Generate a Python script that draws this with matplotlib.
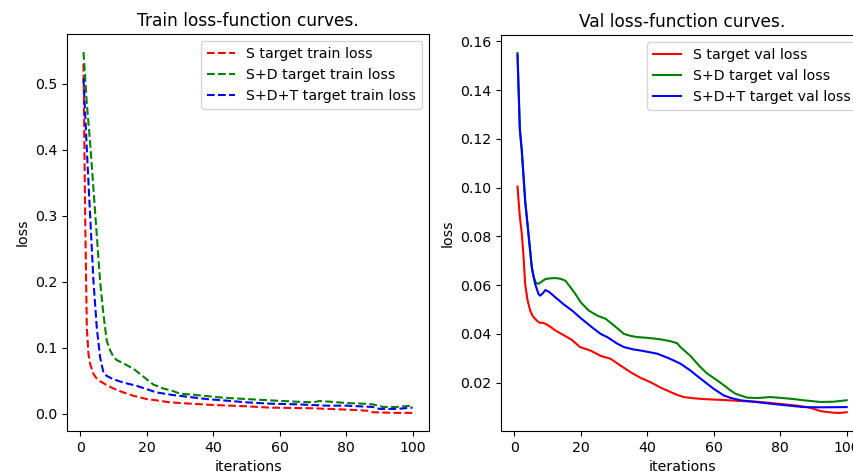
import matplotlib
matplotlib.use("Agg")
import matplotlib.pyplot as plt

plt.rcParams['font.size'] = 10.2

# train loss
x_s_train = [1, 1.5, 2, 2.5, 3, 4, 5, 6, 8, 10, 13, 16, 20, 23, 27, 33, 40, 50, 57, 70, 80, 84, 87, 88, 95, 100]
s_train = [0.53, 0.30, 0.13, 0.09, 0.075, 0.060, 0.053, 0.049, 0.043, 0.038, 0.032, 0.027, 0.022, 0.020, 0.017, 0.015, 0.013, 0.011, 0.009, 0.008, 0.006, 0.005, 0.004, 0.002, 0.001, 0.001]

x_sd_train = [1, 2, 3, 4, 5, 6, 7, 8, 9, 10, 11, 13, 16, 18, 20, 22, 25, 28, 30, 33, 37, 43, 50, 57, 65, 70, 72, 75, 80, 85, 88, 91, 95, 100]
sd_train = [0.548, 0.47, 0.41, 0.34, 0.27, 0.20, 0.15, 0.11, 0.096, 0.086, 0.081, 0.076, 0.068, 0.060, 0.052, 0.044, 0.038, 0.034, 0.030, 0.029, 0.027, 0.024, 0.022, 0.020, 0.018, 0.017, 0.019, 0.018, 0.016, 0.015, 0.014, 0.010, 0.010, 0.012]

x_sdt_train = [1, 2, 3, 4, 5, 6, 7, 8, 10, 13, 17, 20, 23, 28, 33, 38, 43, 50, 57, 65, 74, 80, 84, 88, 90, 95, 100]
sdt_train = [0.508, 0.40, 0.30, 0.20, 0.13, 0.085, 0.062, 0.057, 0.052, 0.047, 0.042, 0.037, 0.032, 0.028, 0.025, 0.022, 0.020, 0.017, 0.015, 0.014, 0.012, 0.012, 0.011, 0.010, 0.007, 0.007, 0.009]

# val loss
x_s_val = [1, 1.7, 2.3, 2.8, 3.3, 4, 4.8, 5.5, 6.3, 7, 7.8, 8.5, 9.5, 11, 12.4, 15, 17.3, 19.8, 22.9, 26, 29, 32, 35, 38, 41, 44, 47, 49, 51, 54, 58, 63, 68, 73, 77, 82, 85, 88, 90, 92, 94, 96, 98, 100]
s_val = [0.1004, 0.088, 0.081, 0.072, 0.0605, 0.054, 0.0496, 0.0475, 0.0462, 0.0452, 0.0445, 0.0446, 0.0441, 0.0428, 0.0414, 0.0394, 0.0376, 0.0346, 0.0332, 0.031, 0.0298, 0.027, 0.0243, 0.022, 0.0202, 0.018, 0.0162, 0.015, 0.0141, 0.0136, 0.0132, 0.0129, 0.0125, 0.0122, 0.0117, 0.011, 0.0106, 0.010, 0.0093, 0.0084, 0.008, 0.0077, 0.0076, 0.0079]

x_sd_val = [1, 1.7, 2.3, 3.3, 4.3, 5.3, 5.8, 6.5, 7.3, 8, 9.4, 11, 12.4, 14, 15.4, 17, 18.4, 20, 22.4, 25, 27.5, 30, 33, 35, 37, 40, 44, 47, 49, 50, 53, 56, 58, 61, 63, 65, 66.5, 68, 70, 73, 77, 80, 84, 87, 92, 96, 100]
sd_val = [0.1552, 0.124, 0.115, 0.0946, 0.081, 0.0673, 0.0635, 0.061, 0.0605, 0.0612, 0.0625, 0.0628, 0.0629, 0.0626, 0.0618, 0.059, 0.0564, 0.053, 0.0496, 0.0475, 0.0462, 0.0435, 0.040, 0.0392, 0.0387, 0.0384, 0.0378, 0.037, 0.0362, 0.0346, 0.031, 0.0264, 0.0238, 0.021, 0.019, 0.0169, 0.0155, 0.0148, 0.0139, 0.0137, 0.0141, 0.0138, 0.0133, 0.0128, 0.0121, 0.0122, 0.0128]

x_sdt_val = [1, 1.7, 2.3, 3.3, 4.3, 5.3, 6.3, 7.3, 7.8, 8.5, 9.4, 10.5, 12.4, 15, 17.4, 20, 23.4, 26, 28, 31, 33, 36, 38, 43, 46, 48, 50, 53, 55, 58, 60, 63, 65, 68, 72, 77, 82, 87, 92, 100]
sdt_val = [0.1545, 0.124, 0.115, 0.0946, 0.081, 0.0673, 0.0605, 0.0564, 0.0557, 0.0565, 0.058, 0.0572, 0.055, 0.052, 0.0496, 0.0465, 0.0427, 0.040, 0.0387, 0.036, 0.0346, 0.0336, 0.0332, 0.0319, 0.0303, 0.0291, 0.0278, 0.025, 0.0228, 0.0196, 0.0175, 0.0148, 0.0138, 0.0128, 0.0122, 0.0114, 0.0107, 0.0100, 0.0099, 0.0100]

fig = plt.figure(figsize=(8.54, 4.72), dpi=100)
# the right panel runs past the right edge, as in the reference
ax1 = fig.add_axes([0.0785, 0.087, 0.424, 0.841])
ax2 = fig.add_axes([0.5867, 0.087, 0.424, 0.839])

ax1.plot(x_s_train, s_train, 'r--', label='S target train loss')
ax1.plot(x_sd_train, sd_train, 'g--', label='S+D target train loss')
ax1.plot(x_sdt_train, sdt_train, 'b--', label='S+D+T target train loss')
ax1.set_title('Train loss-function curves.')
ax1.set_xlabel('iterations')
ax1.set_ylabel('loss')
ax1.legend(loc='upper right')

ax2.plot(x_s_val, s_val, 'r-', label='S target val loss')
ax2.plot(x_sd_val, sd_val, 'g-', label='S+D target val loss')
ax2.plot(x_sdt_val, sdt_val, 'b-', label='S+D+T target val loss')
ax2.set_title('Val loss-function curves.')
ax2.set_xlabel('iterations')
ax2.set_ylabel('loss')
ax2.legend(loc='upper right')

fig.savefig('out.png', dpi=100)
